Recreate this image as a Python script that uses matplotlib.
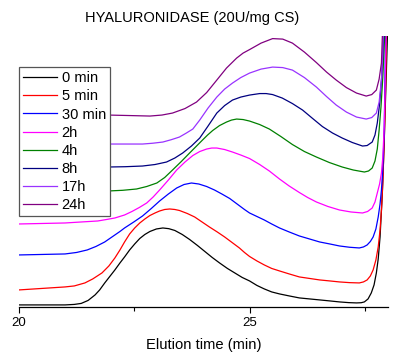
import matplotlib
matplotlib.use("Agg")
import matplotlib.pyplot as plt
from matplotlib.ticker import MultipleLocator

plt.rcParams["font.family"] = ["Liberation Sans", "DejaVu Sans"]

# ---------------------------------------------------------------------------
# Chromatograms: elution time (min) vs. stacked signal
labels = ["0 min", "5 min", "30 min", "2h", "4h", "8h", "17h", "24h"]
colours = ["#000000", "#ff0000", "#0000ff", "#ff00ff",
           "#008000", "#000080", "#9933ff", "#800080"]

t_0min = [20.00, 20.50, 21.00, 21.20, 21.35, 21.50, 21.65, 21.75, 21.86, 21.97,
          22.08, 22.19, 22.29, 22.40, 22.51, 22.62, 22.73, 22.84, 22.98, 23.12,
          23.25, 23.38, 23.54, 23.70, 23.87, 24.03, 24.19, 24.35, 24.52, 24.68,
          24.84, 25.00, 25.16, 25.32, 25.48, 25.65, 25.86, 26.08, 26.30, 26.52,
          26.74, 26.95, 27.15, 27.32, 27.42, 27.49, 27.57, 27.64, 27.70, 27.75,
          27.79, 27.83, 27.88, 27.92, 27.96, 27.99]
s_0min = [2, 2, 2, 2.5, 3.5, 6.5, 12, 17, 24, 30.5,
          37, 44, 50, 57, 63, 68.5, 72.5, 75.5, 78, 79,
          78.3, 76.5, 72.5, 67.5, 61.5, 55.5, 49.5, 44, 38.5, 34,
          29.5, 26, 21.5, 18, 15, 13, 11, 9, 8, 7,
          6, 5, 4.3, 4, 4.2, 5, 8, 14, 22, 34,
          48, 70, 114, 165, 225, 271]

t_5min = [20.00, 20.50, 21.00, 21.20, 21.43, 21.60, 21.80, 21.95, 22.08, 22.19,
          22.29, 22.40, 22.51, 22.62, 22.73, 22.84, 22.95, 23.05, 23.16, 23.27,
          23.38, 23.48, 23.65, 23.81, 23.97, 24.13, 24.30, 24.46, 24.62, 24.78,
          24.89, 25.00, 25.16, 25.32, 25.48, 25.65, 25.86, 26.08, 26.30, 26.52,
          26.74, 26.95, 27.17, 27.38, 27.47, 27.55, 27.62, 27.68, 27.74, 27.79,
          27.83, 27.86, 27.89, 27.92, 27.95, 27.97]
s_5min = [17, 18.5, 20, 21, 24, 28, 34, 41, 49, 57,
          65, 73, 79, 84, 88, 91.5, 94, 96, 97.5, 98,
          97.5, 96.5, 93.5, 90, 85, 80, 75, 70, 64.5, 59,
          54.5, 50.5, 46, 42, 38.5, 36, 33, 30, 28.5, 27,
          26, 25, 24.3, 24, 25, 27, 31, 37, 47, 60,
          77, 97, 125, 165, 220, 271]

t_30min = [20.00, 20.50, 21.00, 21.25, 21.48, 21.67, 21.86, 21.97, 22.08, 22.19,
           22.29, 22.49, 22.68, 22.87, 23.05, 23.24, 23.42, 23.58, 23.74, 23.90,
           24.07, 24.24, 24.40, 24.57, 24.73, 24.89, 25.00, 25.16, 25.32, 25.48,
           25.65, 25.86, 26.08, 26.30, 26.52, 26.74, 26.95, 27.17, 27.38, 27.47,
           27.55, 27.62, 27.68, 27.74, 27.79, 27.83, 27.86, 27.89, 27.92, 27.95]
s_30min = [52, 52.5, 53, 54.5, 57, 60.5, 65, 68.5, 72, 75.5,
           79, 85, 91, 98.5, 106, 113, 119, 122.5, 124, 123,
           120.5, 117, 113, 108.5, 103, 97.5, 94, 90.5, 87, 83,
           79, 75, 71, 68, 65, 63, 61, 59.7, 59, 60,
           62, 65.5, 70, 78, 90, 103, 117, 138, 175, 271]

t_2h = [20.00, 20.50, 21.00, 21.35, 21.71, 21.90, 22.08, 22.29, 22.45, 22.61,
        22.77, 22.91, 23.05, 23.24, 23.42, 23.60, 23.77, 23.92, 24.07, 24.18,
        24.29, 24.46, 24.63, 24.81, 25.00, 25.22, 25.43, 25.65, 25.86, 26.08,
        26.26, 26.45, 26.70, 26.95, 27.20, 27.45, 27.56, 27.66, 27.72, 27.77,
        27.82, 27.86, 27.89, 27.92, 27.94, 27.96]
s_2h = [83, 83.5, 84, 85, 86, 87.5, 89, 92, 95.5, 99.5,
        104, 110, 117, 127, 137, 145, 151.5, 155.5, 158, 159,
        159, 157.5, 155, 152, 148.5, 142.5, 136, 128, 121, 114.5,
        109.5, 105, 100.5, 97, 95, 94, 95.5, 99, 105, 114,
        123, 134, 150, 180, 220, 271]

t_4h = [20.00, 21.00, 21.93, 22.25, 22.55, 22.77, 22.99, 23.16, 23.33, 23.52,
        23.70, 23.84, 23.98, 24.09, 24.20, 24.35, 24.50, 24.61, 24.72, 24.86,
        25.00, 25.22, 25.43, 25.68, 25.93, 26.19, 26.45, 26.73, 27.01, 27.25,
        27.49, 27.58, 27.66, 27.72, 27.77, 27.81, 27.85, 27.89, 27.93]
s_4h = [116, 116, 116, 116.7, 118, 120.5, 124, 129.5, 137, 145.5,
        154, 160.5, 167, 172, 176.5, 181.5, 185, 187, 188, 187.5,
        186, 182.5, 178, 170.5, 162.5, 155.5, 150, 144.5, 140, 137,
        135, 136, 139, 146, 158, 177, 200, 230, 271]

t_8h = [20.00, 21.00, 21.93, 22.30, 22.68, 22.95, 23.20, 23.38, 23.55, 23.74,
        23.92, 24.10, 24.29, 24.46, 24.63, 24.81, 25.00, 25.22, 25.36, 25.50,
        25.71, 25.93, 26.15, 26.37, 26.58, 26.80, 27.01, 27.23, 27.45, 27.55,
        27.66, 27.72, 27.77, 27.82, 27.86, 27.89, 27.91]
s_8h = [140, 140, 140, 140.3, 141, 142.5, 145, 149, 154, 161,
        169, 181, 194, 201.5, 207, 210, 212, 213.5, 213.5, 212.5,
        209, 203.5, 197, 188.5, 180.5, 174, 169, 164.5, 161, 161.5,
        165, 172, 184, 203, 227, 250, 271]

t_17h = [20.00, 21.00, 21.93, 22.68, 22.90, 23.12, 23.30, 23.48, 23.63, 23.77,
         23.92, 24.10, 24.29, 24.46, 24.63, 24.81, 25.00, 25.25, 25.50, 25.72,
         25.93, 26.19, 26.45, 26.67, 26.88, 27.10, 27.32, 27.53, 27.65, 27.75,
         27.81, 27.86, 27.88, 27.90]
s_17h = [163, 163, 163, 163, 163.8, 165, 167.3, 170, 174, 178,
         187, 199, 210, 218, 224, 229.5, 234, 238, 240, 239.5,
         237, 229.5, 220, 210.5, 202, 195, 190, 188, 189.5, 194,
         205, 227, 245, 271]

t_24h = [20.00, 21.00, 21.93, 22.40, 22.84, 23.10, 23.33, 23.60, 23.85, 24.07,
         24.29, 24.50, 24.72, 24.86, 25.00, 25.25, 25.50, 25.72, 25.93, 26.19,
         26.45, 26.67, 26.88, 27.10, 27.32, 27.53, 27.65, 27.75, 27.81, 27.86,
         27.88]
s_24h = [192, 192, 192, 191.5, 191, 192, 194, 198.5, 205, 214.5,
         227, 239, 249, 254, 257.5, 264, 268.5, 268, 264, 255,
         244.5, 235, 227, 219.5, 214, 211, 212.5, 217, 228, 244,
         271]

times = [t_0min, t_5min, t_30min, t_2h, t_4h, t_8h, t_17h, t_24h]
signals = [s_0min, s_5min, s_30min, s_2h, s_4h, s_8h, s_17h, s_24h]

# ---------------------------------------------------------------------------
fig = plt.figure(figsize=(3.95, 3.54), dpi=100)
ax = fig.add_axes([0.048, 0.133, 0.934, 0.765])

for t, s, c, lab in zip(times, signals, colours, labels):
    ax.plot(t, s, color=c, lw=0.9, label=lab)

ax.set_xlim(20, 28)
ax.set_ylim(0, 271)
ax.xaxis.set_major_locator(MultipleLocator(5))
ax.xaxis.set_minor_locator(MultipleLocator(2.5))
ax.tick_params(axis="x", which="major", direction="out", length=4.5,
               width=0.8, labelsize=9.5, pad=3)
ax.tick_params(axis="x", which="minor", direction="out", length=3, width=0.8)
ax.set_yticks([])
for side in ("left", "right", "top"):
    ax.spines[side].set_visible(False)
ax.spines["bottom"].set_linewidth(0.9)

ax.set_xlabel("Elution time (min)", fontsize=10.6, labelpad=6)
fig.text(0.486, 0.949, "HYALURONIDASE (20U/mg CS)", fontsize=10.5,
         ha="center", va="center")

leg = ax.legend(loc="upper left", bbox_to_anchor=(0, 0.886), borderaxespad=0,
                fontsize=10.5, frameon=True, fancybox=False, handlelength=2.33,
                handletextpad=0.3, labelspacing=0.28, borderpad=0.3)
leg.get_frame().set_edgecolor("#555555")
leg.get_frame().set_linewidth(0.9)
leg.get_frame().set_alpha(1)

fig.savefig("out.png", dpi=100)
